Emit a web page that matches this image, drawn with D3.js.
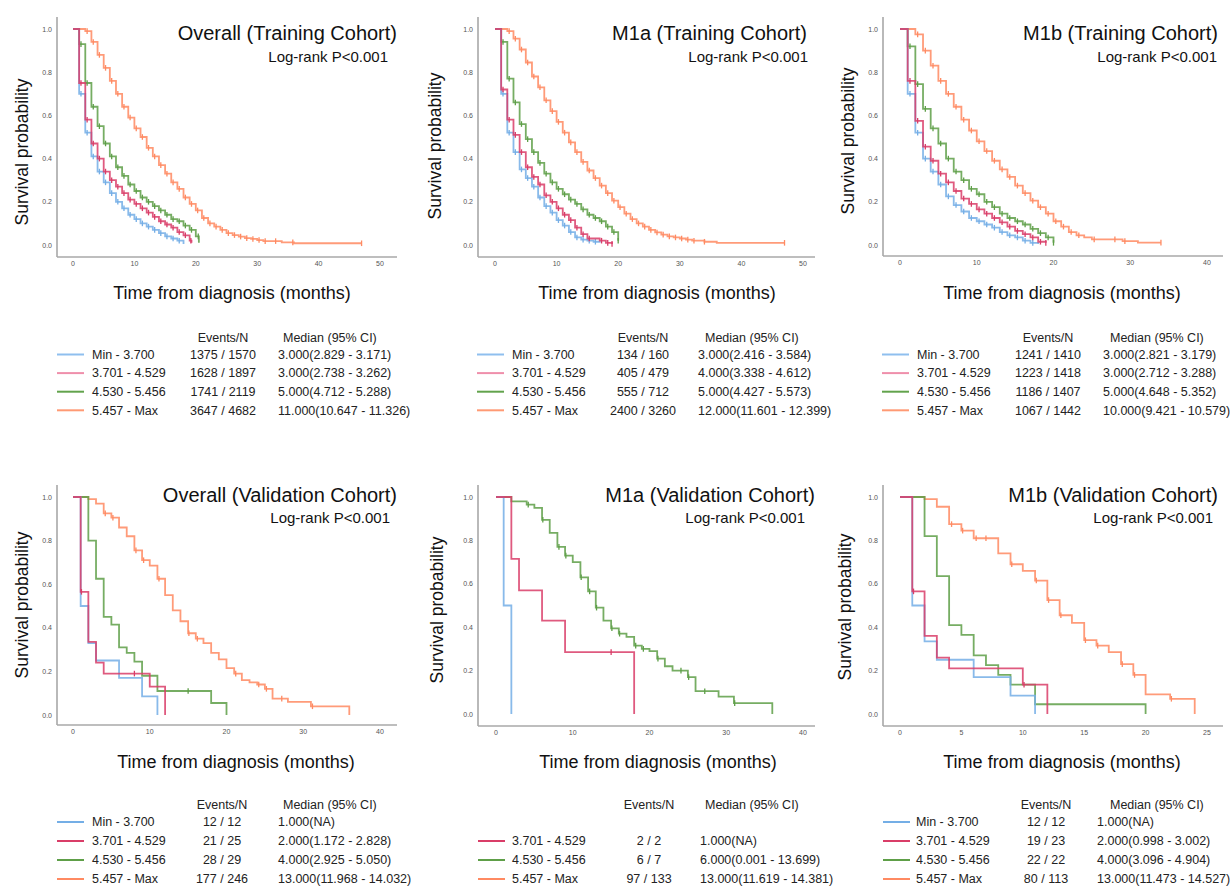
<!DOCTYPE html>
<html lang="en">
<head>
<meta charset="UTF-8">
<title>Survival by group – training and validation cohorts</title>
<script src="https://d3js.org/d3.v7.min.js"></script>
<style>
  body { margin: 0; background: #fff; font-family: Arial, "Liberation Sans", sans-serif; }
  .axis-line { stroke: #a8a8a8; stroke-width: 1.6px; }
  .tick-label { font-size: 7px; fill: #555; }
  .title { font-size: 20px; fill: #111; }
  .logrank { font-size: 15px; fill: #111; }
  .ax-title { fill: #111; }
  .leg { font-size: 12.5px; fill: #222; }
  .curve { fill: none; stroke-width: 1.8px; stroke-opacity: 0.85; }
</style>
</head>
<body>
<div id="chart"></div>
<script>
// groups, in legend order: blue, red, green, orange
const groups = ["Min - 3.700", "3.701 - 4.529", "4.530 - 5.456", "5.457 - Max"];
const palette = ["#74aee6", "#d93d68", "#5e9f48", "#ff8a62"];
const legendLine = ["#8fbfee", "#ef8fab", "#62a34c", "#ff9a74"];

const titles = [
  "Overall (Training Cohort)", "M1a (Training Cohort)", "M1b (Training Cohort)",
  "Overall (Validation Cohort)", "M1a (Validation Cohort)", "M1b (Validation Cohort)"
];
const xMax = [50, 50, 40, 40, 40, 25];
const yTicks = [0, 0.2, 0.4, 0.6, 0.8, 1.0];

// step points [month, survival] for each curve colour (blue, red, green, orange)
const otSteps = [
  [[0,1],[1,.70],[2,.52],[3,.41],[4,.34],[5,.29],[6,.24],[7,.20],[8,.17],[9,.14],[10,.12],[11,.10],[12,.085],[13,.07],[14,.055],[15,.04],[16,.03],[17,.02],[18,.005]],
  [[0,1],[1,.75],[2,.58],[3,.47],[4,.40],[5,.34],[6,.30],[7,.27],[8,.24],[9,.21],[10,.19],[11,.17],[12,.15],[13,.13],[14,.11],[15,.095],[16,.08],[17,.06],[18,.045],[19,.02],[19.3,.01]],
  [[0,1],[1,.93],[2,.75],[3,.64],[4,.55],[5,.47],[6,.41],[7,.36],[8,.32],[9,.28],[10,.25],[11,.22],[12,.20],[13,.18],[14,.16],[15,.14],[16,.12],[17,.11],[18,.09],[19,.07],[20,.04],[20.5,.01]],
  [[0,1],[2,.99],[3,.94],[4,.88],[5,.82],[6,.76],[7,.70],[8,.64],[9,.59],[10,.54],[11,.50],[12,.45],[13,.41],[14,.37],[15,.33],[16,.29],[17,.26],[18,.22],[19,.19],[20,.16],[21,.125],[22,.10],[23,.085],[24,.07],[25,.055],[26,.046],[27,.039],[28,.032],[29,.028],[30,.023],[31,.018],[34,.012],[36,.008],[47,.008]]
];
const mtSteps = [
  [[0,1],[1,.70],[2,.52],[3,.43],[4,.35],[5,.31],[6,.27],[7,.22],[8,.18],[9,.15],[10,.115],[11,.09],[12,.06],[13,.035],[14,.025],[15,.02],[16,.015],[17,.01]],
  [[0,1],[1,.72],[2,.58],[3,.51],[4,.43],[5,.36],[6,.315],[7,.28],[8,.23],[9,.20],[10,.17],[11,.14],[12,.115],[13,.08],[14,.05],[15,.03],[17,.02],[18,.01],[19,.005]],
  [[0,1],[1,.94],[2,.77],[3,.66],[4,.56],[5,.49],[6,.43],[7,.38],[8,.33],[9,.29],[10,.26],[11,.235],[12,.21],[13,.19],[14,.165],[15,.14],[16,.125],[17,.11],[18,.085],[19,.06],[20,.02]],
  [[0,1],[2,.99],[3,.955],[4,.905],[5,.845],[6,.78],[7,.73],[8,.67],[9,.62],[10,.57],[11,.52],[12,.475],[13,.43],[14,.385],[15,.345],[16,.31],[17,.275],[18,.24],[19,.205],[20,.175],[21,.145],[22,.12],[23,.10],[24,.085],[25,.07],[26,.058],[27,.048],[28,.04],[29,.035],[30,.03],[31,.025],[32,.02],[34,.015],[36,.01],[47,.01]]
];
const btSteps = [
  [[0,1],[1,.70],[2,.52],[3,.40],[4,.34],[5,.28],[6,.225],[7,.185],[8,.155],[9,.125],[10,.11],[11,.095],[12,.08],[13,.06],[14,.045],[15,.035],[16,.02],[17,.01],[18,.005]],
  [[0,1],[1,.76],[2,.575],[3,.455],[4,.39],[5,.33],[6,.29],[7,.25],[8,.215],[9,.19],[10,.165],[11,.145],[12,.125],[13,.105],[14,.085],[15,.065],[16,.05],[17,.035],[18,.015],[19,.01]],
  [[0,1],[1,.92],[2,.745],[3,.63],[4,.54],[5,.47],[6,.40],[7,.34],[8,.30],[9,.26],[10,.235],[11,.20],[12,.175],[13,.145],[14,.125],[15,.11],[16,.095],[17,.075],[18,.055],[19,.035],[20,.01]],
  [[0,1],[2,.975],[3,.90],[4,.83],[5,.76],[6,.70],[7,.64],[8,.58],[9,.53],[10,.48],[11,.435],[12,.39],[13,.35],[14,.315],[15,.275],[16,.24],[17,.205],[18,.175],[19,.145],[20,.11],[21,.085],[22,.06],[23,.045],[24,.035],[25,.026],[29,.018],[31,.011],[34,.011]]
];
const ovSteps = [
  [[0,1],[1,.5],[2,.33],[3,.25],[6,.17],[9,.085],[11,0]],
  [[0,1],[1,.565],[2,.335],[3,.24],[4,.19],[10,.13],[12,0]],
  [[0,1],[2,.80],[3,.625],[4,.45],[5,.415],[6,.31],[7,.285],[8,.245],[9,.18],[11,.11],[18,.055],[20,0]],
  [[0,1],[2,.99],[3,.97],[4,.925],[5,.905],[6,.86],[7,.82],[8,.755],[9,.71],[10,.685],[11,.625],[12,.55],[13,.48],[14,.43],[15,.375],[16,.35],[17,.33],[18,.285],[19,.255],[20,.215],[21,.19],[22,.16],[23,.15],[24,.14],[25,.12],[26,.075],[28,.06],[31,.04],[36,0]]
];
// M1a validation: only three groups present, drawn in blue, red, green
const mvSteps = [
  [[0,1],[1,.5],[2,0]],
  [[0,1],[2,.715],[3,.57],[6,.43],[9,.285],[18,0]],
  [[0,1],[2,.98],[4,.965],[5,.95],[6,.895],[7,.835],[8,.77],[9,.73],[10,.70],[11,.63],[12,.565],[13,.49],[14,.43],[15,.395],[16,.37],[17,.355],[18,.315],[19,.30],[20,.29],[21,.255],[22,.22],[23,.20],[25,.17],[26,.105],[29,.08],[31,.05],[36,0]],
  []
];
const bvSteps = [
  [[0,1],[1,.5],[2,.335],[3,.25],[6,.17],[9,.085],[11,0]],
  [[0,1],[1,.565],[2,.36],[3,.26],[4,.21],[10,.135],[12,0]],
  [[0,1],[2,.82],[3,.635],[4,.41],[5,.365],[6,.27],[7,.225],[8,.18],[9,.135],[11,.045],[20,0]],
  [[0,1],[2,.99],[3,.955],[4,.875],[5,.845],[6,.81],[8,.74],[9,.69],[10,.66],[11,.615],[12,.525],[13,.455],[14,.42],[15,.34],[16,.315],[17,.285],[18,.23],[19,.18],[20,.09],[22,.07],[24,0]]
];

// censoring times (months)
const otCens = [
  [1.3,2.3,3.3,4.3,5.3,6.3,7.3,8.3,9.3,10.3,11.3,12.3,13.3,14.3,15.3,16.3,17.3],
  [1.3,2.3,3.3,4.3,5.3,6.3,7.3,8.3,9.3,10.3,11.3,12.3,13.3,14.3,15.3,16.3,17.3,18.3,19.2],
  [1.3,2.3,3.3,4.3,5.3,6.3,7.3,8.3,9.3,10.3,11.3,12.3,13.3,14.3,15.3,16.3,17.3,18.3,19.3,20.4],
  [2.3,3.3,4.3,5.3,6.3,7.3,8.3,9.3,10.3,11.3,12.3,13.3,14.3,15.3,16.3,17.3,18.3,19.3,20.3,21.3,22.3,23.3,24.3,25.3,26.3,27.3,28.3,29.3,30.3,31.3,33,35.8,47]
];
const mtCens = [
  [1.3,2.3,3.3,4.3,5.3,6.3,7.3,8.3,9.3,10.3,11.3,12.3,13.3,14.3,15.3,16.3],
  [1.3,2.3,3.3,4.3,5.3,6.3,7.3,8.3,9.3,10.3,11.3,12.3,13.3,14.3,15.3,17.3,18.3,19],
  [1.3,2.3,3.3,4.3,5.3,6.3,7.3,8.3,9.3,10.3,11.3,12.3,13.3,14.3,15.3,16.3,17.3,18.3,19.3,20],
  [2.3,3.3,4.3,5.3,6.3,7.3,8.3,9.3,10.3,11.3,12.3,13.3,14.3,15.3,16.3,17.3,18.3,19.3,20.3,21.3,22.3,23.3,24.3,25.3,26.3,27.3,28.3,29.3,30.3,31.3,32.3,34,47]
];
const btCens = [
  [1.3,2.3,3.3,4.3,5.3,6.3,7.3,8.3,9.3,10.3,11.3,12.3,13.3,14.3,15.3,16.3,17.3],
  [1.3,2.3,3.3,4.3,5.3,6.3,7.3,8.3,9.3,10.3,11.3,12.3,13.3,14.3,15.3,16.3,17.3,18.3,19],
  [1.3,2.3,3.3,4.3,5.3,6.3,7.3,8.3,9.3,10.3,11.3,12.3,13.3,14.3,15.3,16.3,17.3,18.3,19.3,20],
  [2.3,3.3,4.3,5.3,6.3,7.3,8.3,9.3,10.3,11.3,12.3,13.3,14.3,15.3,16.3,17.3,18.3,19.3,20.3,21.3,22.3,23.3,25.3,28,29.3,34]
];
const ovCens = [[], [1.1, 8], [15], [4.2, 5.2, 8.2, 9.2, 11.2, 15.1, 16.2, 21.2, 24.2, 25.2, 27.2, 31.2]];
const mvCens = [[], [15], [4.2, 6.1, 8.2, 9.1, 11.1, 12.2, 13.1, 15.1, 16.1, 18.2, 19.2, 21.1, 24.1, 25.1, 27.2, 31.1], []];
const bvCens = [[], [1.1, 10.1], [], [4.2, 5.1, 6.2, 7, 9.1, 11.1, 12.1, 13.1, 15.1, 16.1, 18.1, 19.1, 22.1]];

// legend tables
const otEvents = ["1375 / 1570", "1628 / 1897", "1741 / 2119", "3647 / 4682"];
const otMedian = ["3.000(2.829 - 3.171)", "3.000(2.738 - 3.262)", "5.000(4.712 - 5.288)", "11.000(10.647 - 11.326)"];
const mtEvents = ["134 / 160", "405 / 479", "555 / 712", "2400 / 3260"];
const mtMedian = ["3.000(2.416 - 3.584)", "4.000(3.338 - 4.612)", "5.000(4.427 - 5.573)", "12.000(11.601 - 12.399)"];
const btEvents = ["1241 / 1410", "1223 / 1418", "1186 / 1407", "1067 / 1442"];
const btMedian = ["3.000(2.821 - 3.179)", "3.000(2.712 - 3.288)", "5.000(4.648 - 5.352)", "10.000(9.421 - 10.579)"];
const ovEvents = ["12 / 12", "21 / 25", "28 / 29", "177 / 246"];
const ovMedian = ["1.000(NA)", "2.000(1.172 - 2.828)", "4.000(2.925 - 5.050)", "13.000(11.968 - 14.032)"];
const mvEvents = [null, "2 / 2", "6 / 7", "97 / 133"];
const mvMedian = [null, "1.000(NA)", "6.000(0.001 - 13.699)", "13.000(11.619 - 14.381)"];
const bvEvents = ["12 / 12", "19 / 23", "22 / 22", "80 / 113"];
const bvMedian = ["1.000(NA)", "2.000(0.998 - 3.002)", "4.000(3.096 - 4.904)", "13.000(11.473 - 14.527)"];

const width = 1230, height = 892;
const svg = d3.select("#chart").append("svg")
  .attr("width", width).attr("height", height);

// layout of the six panels
const panels = [
  { steps: otSteps, cens: otCens, ev: otEvents, med: otMedian,
    ax: 57, top: 17, base: 257, right: 397, x0: 73, x1: 380, y0: 245, y1: 29,
    tRight: 397, tY: 33, lRight: 388, lY: 57, yl: [22, 152], xl: [232, 293],
    leg: { y: 338, r0: 354.5, dy: 18.6, line: 57, lab: 92, evc: 223, medH: 283, medV: 278 } },
  { steps: mtSteps, cens: mtCens, ev: mtEvents, med: mtMedian,
    ax: 478, top: 17, base: 257, right: 815, x0: 495, x1: 803, y0: 245, y1: 29,
    tRight: 807, tY: 33, lRight: 808, lY: 57, yl: [435, 146], xl: [657, 293],
    leg: { y: 338, r0: 354.5, dy: 18.6, line: 477, lab: 512, evc: 643, medH: 705, medV: 698 } },
  { steps: btSteps, cens: btCens, ev: btEvents, med: btMedian,
    ax: 883, top: 17, base: 256, right: 1223, x0: 900, x1: 1207, y0: 245, y1: 29,
    tRight: 1218, tY: 33, lRight: 1217, lY: 57, yl: [848, 141], xl: [1062, 293],
    leg: { y: 338, r0: 354.5, dy: 18.6, line: 882, lab: 917, evc: 1048, medH: 1110, medV: 1103 } },
  { steps: ovSteps, cens: ovCens, ev: ovEvents, med: ovMedian,
    ax: 57, top: 485, base: 725, right: 397, x0: 73, x1: 380, y0: 715, y1: 497,
    tRight: 397, tY: 495, lRight: 390, lY: 518, yl: [22, 605], xl: [236, 762],
    leg: { y: 804.5, r0: 822, dy: 19, line: 57, lab: 92, evc: 222, medH: 283, medV: 278 } },
  { steps: mvSteps, cens: mvCens, ev: mvEvents, med: mvMedian,
    ax: 478, top: 485, base: 726, right: 815, x0: 496, x1: 803, y0: 714, y1: 497,
    tRight: 815, tY: 495, lRight: 805, lY: 518, yl: [437, 610], xl: [658, 762],
    leg: { y: 804.5, r0: 822, dy: 19, line: 478, lab: 512, evc: 649, medH: 705, medV: 700 } },
  { steps: bvSteps, cens: bvCens, ev: bvEvents, med: bvMedian,
    ax: 883, top: 485, base: 726, right: 1223, x0: 900, x1: 1207, y0: 714, y1: 497,
    tRight: 1218, tY: 495, lRight: 1213, lY: 518, yl: [845, 607], xl: [1062, 762],
    leg: { y: 804.5, r0: 822, dy: 19, line: 883, lab: 916, evc: 1046, medH: 1110, medV: 1097 } }
];

panels.forEach((p, i) => {
  const g = svg.append("g");
  const x = d3.scaleLinear().domain([0, xMax[i]]).range([p.x0, p.x1]);
  const y = d3.scaleLinear().domain([0, 1]).range([p.y0, p.y1]);

  // axes: plain lines, labels only
  g.append("line").attr("class", "axis-line")
    .attr("x1", p.ax).attr("x2", p.ax).attr("y1", p.top).attr("y2", p.base);
  g.append("line").attr("class", "axis-line")
    .attr("x1", p.ax).attr("x2", p.right).attr("y1", p.base).attr("y2", p.base);

  g.selectAll(".xt").data(x.ticks(5)).enter().append("text")
    .attr("class", "tick-label")
    .attr("x", d => x(d)).attr("y", p.base + 9)
    .attr("text-anchor", "middle")
    .text(d => d);
  g.selectAll(".yt").data(yTicks).enter().append("text")
    .attr("class", "tick-label")
    .attr("x", p.ax - 5).attr("y", d => y(d) + 2.5)
    .attr("text-anchor", "end")
    .text(d3.format(".1f"));

  const line = d3.line()
    .x(d => x(d[0])).y(d => y(d[1]))
    .curve(d3.curveStepAfter);

  const drawOrder = [3, 2, 0, 1];
  drawOrder.forEach(k => {
    const s = p.steps[k];
    if (!s || !s.length) return;
    g.append("path").attr("class", "curve")
      .attr("stroke", palette[k])
      .attr("d", line(s));
    // censor marks
    const survAt = t => {
      let v = s[0][1];
      s.forEach(d => { if (d[0] <= t) v = d[1]; });
      return v;
    };
    g.selectAll(null).data(p.cens[k] || []).enter().append("line")
      .attr("stroke", palette[k]).attr("stroke-width", 1.3)
      .attr("x1", d => x(d)).attr("x2", d => x(d))
      .attr("y1", d => y(survAt(d)) - 2.8)
      .attr("y2", d => y(survAt(d)) + 2.8);
  });

  // titles
  g.append("text").attr("class", "title")
    .attr("x", p.tRight).attr("y", p.tY).attr("dy", "0.35em")
    .attr("text-anchor", "end").text(titles[i]);
  g.append("text").attr("class", "logrank")
    .attr("x", p.lRight).attr("y", p.lY).attr("dy", "0.35em")
    .attr("text-anchor", "end").text("Log-rank P<0.001");

  g.append("text").attr("class", "ax-title")
    .attr("transform", `translate(${p.yl[0]},${p.yl[1]}) rotate(-90)`)
    .attr("dy", "0.35em").attr("text-anchor", "middle")
    .style("font-size", "17.5px")
    .text("Survival probability");
  g.append("text").attr("class", "ax-title")
    .attr("x", p.xl[0]).attr("y", p.xl[1]).attr("dy", "0.35em")
    .attr("text-anchor", "middle")
    .style("font-size", "18px")
    .text("Time from diagnosis (months)");

  // legend table
  const L = p.leg;
  const lg = g.append("g");
  lg.append("text").attr("class", "leg")
    .attr("x", L.evc).attr("y", L.y).attr("dy", "0.35em")
    .attr("text-anchor", "middle").text("Events/N");
  lg.append("text").attr("class", "leg")
    .attr("x", L.medH).attr("y", L.y).attr("dy", "0.35em")
    .text("Median (95% CI)");
  groups.forEach((name, k) => {
    if (!p.ev[k]) return;
    const ry = L.r0 + k * L.dy;
    lg.append("line")
      .attr("x1", L.line).attr("x2", L.line + 27)
      .attr("y1", ry).attr("y2", ry)
      .attr("stroke", i >= 3 ? palette[k] : legendLine[k])
      .attr("stroke-width", 2);
    lg.append("text").attr("class", "leg")
      .attr("x", L.lab).attr("y", ry).attr("dy", "0.35em").text(name);
    lg.append("text").attr("class", "leg")
      .attr("x", L.evc).attr("y", ry).attr("dy", "0.35em")
      .attr("text-anchor", "middle").text(p.ev[k]);
    lg.append("text").attr("class", "leg")
      .attr("x", L.medV).attr("y", ry).attr("dy", "0.35em").text(p.med[k]);
  });
});
</script>
</body>
</html>
